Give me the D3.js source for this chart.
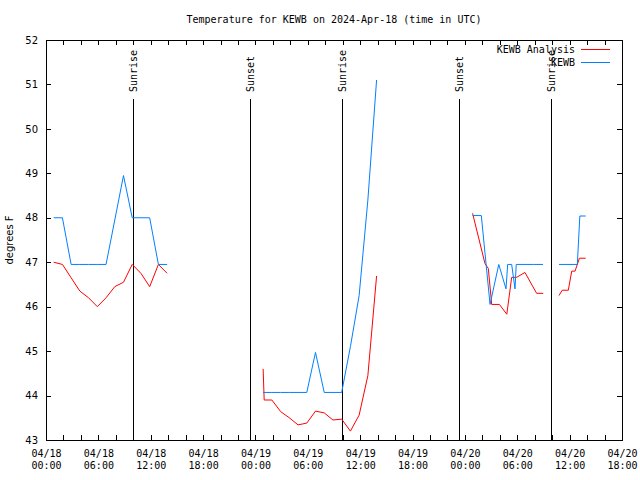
<!DOCTYPE html>
<html><head><meta charset="utf-8">
<script src="https://cdn.jsdelivr.net/npm/d3@7"></script>
<style>
body{margin:0;background:#fff;}
svg{display:block;background:#fff;}
.mono{font-family:"DejaVu Sans Mono",monospace;font-size:10px;}
.sans{font-family:"DejaVu Sans",sans-serif;font-size:10px;}
</style></head><body>
<svg id="c" width="640" height="480"></svg>
<script>
// ---------- data ----------
const chartTitle = "Temperature for KEWB on 2024-Apr-18 (time in UTC)";
const yAxisLabel = "degrees F";
const seriesNames = ["KEWB Analysis", "KEWB"];
const seriesColors = ["#ff0000", "#0080ff"];

// hours since 2024-04-18 00:00 UTC; null separates segments
const analysisHours = [0.88,1.88,2.88,3.88,4.88,5.88,6.88,7.88,8.88,9.88,10.88,11.88,12.88,13.88, null,
  24.88,25.0,25.88,26.88,27.88,28.88,29.88,30.88,31.88,32.88,33.88,34.88,35.88,36.88,37.88, null,
  48.88,50.3,50.68,51.07,51.95,52.8,53.36,53.93,54.88,56.22,56.98, null,
  58.78,59.15,59.85,60.24,60.62,61.12,61.84];
const analysisTemps = [47.0,46.95,46.65,46.35,46.2,46.0,46.2,46.45,46.55,46.95,46.75,46.45,46.95,46.75, null,
  44.6,43.9,43.9,43.64,43.5,43.34,43.38,43.65,43.61,43.45,43.47,43.2,43.56,44.45,46.69, null,
  48.1,46.97,46.86,46.05,46.05,45.83,46.66,46.66,46.77,46.3,46.3, null,
  46.25,46.37,46.37,46.8,46.8,47.09,47.09];

const obsHours = [0.88,1.88,2.88,3.88,4.88,5.88,6.88,7.88,8.88,9.88,10.88,11.88,12.88,13.88, null,
  24.88,25.88,26.88,27.88,28.88,29.88,30.88,31.88,32.88,33.88,34.88,35.88,36.88,37.88, null,
  48.88,49.88,50.88,51.88,52.71,52.9,53.36,53.74,53.88,54.88,55.88,56.95, null,
  58.78,60.88,61.17,61.84];
const obsTemps = [48.0,48.0,46.95,46.95,46.95,46.95,46.95,47.95,48.95,48.0,48.0,48.0,46.95,46.95, null,
  44.07,44.07,44.07,44.07,44.07,44.07,44.97,44.07,44.07,44.07,45.1,46.25,48.4,51.1, null,
  48.05,48.05,46.05,46.95,46.4,46.95,46.95,46.4,46.95,46.95,46.95,46.95, null,
  46.95,46.95,48.04,48.04];

const sunEventHours = [9.98, 23.43, 33.9, 47.35, 57.92];
const sunEventNames = ["Sunrise", "Sunset", "Sunrise", "Sunset", "Sunrise"];
const sunLineTop = 50.67;

const yTicks = [43,44,45,46,47,48,49,50,51,52];
const xTickHours = [0,6,12,18,24,30,36,42,48,54,60,66];
const xTickLabels = ["04/18 00:00","04/18 06:00","04/18 12:00","04/18 18:00",
  "04/19 00:00","04/19 06:00","04/19 12:00","04/19 18:00",
  "04/20 00:00","04/20 06:00","04/20 12:00","04/20 18:00"];
const xMinorStep = 2; // hours

// ---------- drawing ----------
const base = Date.UTC(2024, 3, 18, 0, 0);
const toDate = h => new Date(base + h * 3600e3);
const L = 46, R = 622, T = 40, B = 440;
const svg = d3.select("#c");

const x = d3.scaleUtc().domain([toDate(0), toDate(66)]).range([L, R]);
const y = d3.scaleLinear().domain([43, 52]).range([B, T]);

// title
svg.append("text").attr("class","mono").attr("x",(L+R)/2).attr("y",23)
  .attr("text-anchor","middle").text(chartTitle);

// y label
svg.append("text").attr("class","sans")
  .attr("transform",`translate(13,${(T+B)/2}) rotate(-90)`)
  .attr("text-anchor","middle").text(yAxisLabel);

const allTicks = d3.range(0, 66 + 0.001, xMinorStep).map(toDate);
const labelMap = new Map(xTickHours.map((h,i)=>[+toDate(h), xTickLabels[i]]));

// bottom axis
const gx = svg.append("g").attr("transform",`translate(0,${B})`)
  .call(d3.axisBottom(x).tickValues(allTicks).tickSize(-5).tickPadding(10)
    .tickFormat(d => labelMap.get(+d) || ""));
gx.selectAll("text").each(function(d){
  const s = labelMap.get(+d);
  const t = d3.select(this).text(null).attr("class","mono").attr("fill","#000").attr("y",10);
  if (!s) return;
  const parts = s.split(" ");
  t.append("tspan").attr("x",0).attr("dy","0.71em").text(parts[0]);
  t.append("tspan").attr("x",0).attr("dy","1.2em").text(parts[1]);
});
gx.attr("font-family",null).attr("font-size",null);
// top axis (mirror)
svg.append("g").attr("transform",`translate(0,${T})`)
  .call(d3.axisTop(x).tickValues(allTicks).tickSize(-5).tickFormat(""));
// left axis
const gy = svg.append("g").attr("transform",`translate(${L},0)`)
  .call(d3.axisLeft(y).tickValues(yTicks).tickSize(-5).tickPadding(8).tickFormat(d3.format("d")));
gy.selectAll("text").attr("class","sans").attr("fill","#000");
gy.attr("font-family",null).attr("font-size",null);
// right axis mirror
svg.append("g").attr("transform",`translate(${R},0)`)
  .call(d3.axisRight(y).tickValues(yTicks).tickSize(-5).tickFormat(""));

svg.selectAll(".domain").remove();
svg.selectAll(".tick line").attr("stroke","#000").attr("shape-rendering","crispEdges");

// border
svg.append("rect").attr("x",L).attr("y",T).attr("width",R-L).attr("height",B-T)
  .attr("fill","none").attr("stroke","#000").attr("shape-rendering","crispEdges");

// sun events
sunEventHours.forEach((h,i)=>{
  const xx = Math.round(x(toDate(h))) + 0.5;
  svg.append("line").attr("x1",xx).attr("x2",xx).attr("y1",y(43)).attr("y2",y(sunLineTop))
    .attr("stroke","#000").attr("shape-rendering","crispEdges");
  svg.append("text").attr("class","mono")
    .attr("transform",`translate(${xx},${y(sunLineTop)-7}) rotate(-90)`)
    .attr("dy","0.35em").text(sunEventNames[i]);
});

// series
function drawSeries(hours, temps, color){
  const pts = hours.map((h,i)=>[h, temps[i]]);
  const line = d3.line().defined(d => d[0] !== null && d[1] !== null)
    .x(d => x(toDate(d[0]))).y(d => y(d[1]));
  svg.append("path").attr("d", line(pts)).attr("fill","none")
    .attr("stroke", color).attr("stroke-width",1);
}
drawSeries(analysisHours, analysisTemps, seriesColors[0]);
drawSeries(obsHours, obsTemps, seriesColors[1]);

// legend
seriesNames.forEach((n,i)=>{
  const ly = 49 + i*13;
  svg.append("text").attr("class","mono").attr("x",575).attr("y",ly)
    .attr("dy","0.35em").attr("text-anchor","end").text(n);
  svg.append("line").attr("x1",581).attr("x2",610).attr("y1",ly+0.5).attr("y2",ly+0.5)
    .attr("stroke",seriesColors[i]).attr("shape-rendering","crispEdges");
});
</script>
</body></html>
